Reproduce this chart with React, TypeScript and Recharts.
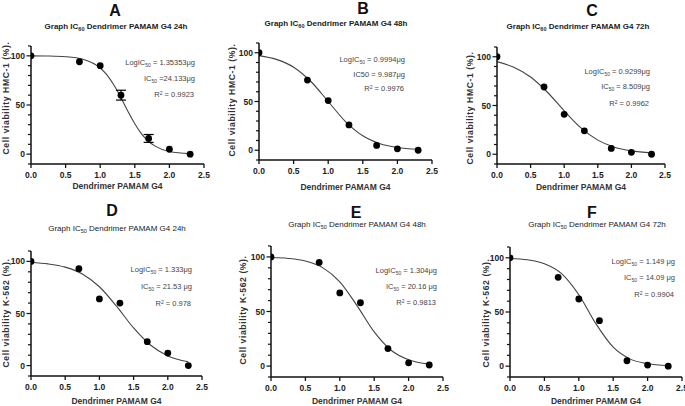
import React from 'react';
import { ComposedChart, Line, Scatter, XAxis, YAxis, ErrorBar } from 'recharts';

const W = 685;
const H = 406;
const FONT = '"Liberation Sans", Arial, Helvetica, sans-serif';

// measured doses (log10 µg)
const doseLog = [0, 0.7, 1.0, 1.3, 1.7, 2.0, 2.3];
const viabilityA = [100, 94, 90, 60, 16, 5, 0];
const errorA = [0, 0, 0, 5, 4, 0, 0];
const viabilityB = [100, 72, 51, 26, 5, 1.5, 0];
const viabilityC = [100, 69, 41, 24, 6, 2, 0];
const viabilityD = [100, 93, 64, 60, 23, 12, 0];
const viabilityE = [100, 95, 67, 58, 16, 3, 1];
const viabilityF = [100, 82, 62, 42, 5, 1, 0];

// fitted curves
const curveXA = [0, 0.25, 0.5, 0.75, 1.0, 1.1, 1.2, 1.3, 1.4, 1.5, 1.6, 1.7, 1.8, 2.0, 2.3];
const curveYA = [100, 99.8, 99.1, 96.6, 87.6, 80.3, 70, 57.4, 43.7, 30.9, 20.4, 12.9, 7.9, 2.7, 0.5];
const curveX = [0, 0.25, 0.5, 0.75, 1.0, 1.25, 1.5, 1.75, 2.0, 2.3];
const curveYB = [97.1, 93.2, 85.2, 70.5, 50, 29.4, 14.8, 6.7, 2.9, 1.0];
const curveYC = [95, 89.2, 79.2, 63.6, 44.6, 27, 14.5, 7.2, 3.5, 1.4];
const curveYD = [99, 97.6, 94.5, 87.9, 75.7, 57, 36.1, 19.5, 9.3, 3.6];
const curveYE = [99.4, 98.6, 96.2, 90.2, 77.2, 55.4, 31.3, 14.3, 5.8, 1.8];
const curveYF = [99.4, 98.2, 94.6, 85.4, 65.9, 39, 17.5, 6.5, 2.3, 0.6];

const xTicks = [0, 0.5, 1.0, 1.5, 2.0, 2.5];
const yTicks = [-10, 0, 10, 20, 30, 40, 50, 60, 70, 80, 90, 100, 110];
const yMajor = [0, 50, 100];

const letters = ['A', 'B', 'C', 'D', 'E', 'F'];
const hours = ['24h', '48h', '72h', '24h', '48h', '72h'];
const yLabels = ['Cell viability HMC-1 (%).', 'Cell  viability K-562 (%).'];
const xLabel = 'Dendrimer PAMAM G4';
const logTexts = ['1.35353\u03bcg', '0.9994\u03bcg', '0.9299\u03bcg', '1.333\u03bcg', '1.304\u03bcg', '1.149 \u03bcg'];
const icTexts = ['=24.133\u03bcg', '= 9.987\u03bcg', '= 8.509\u03bcg', '= 21.53 \u03bcg', '= 20.16 \u03bcg', '= 14.09 \u03bcg'];
const r2Texts = ['= 0.9923', '= 0.9976', '= 0.9962', '= 0.978', '= 0.9813', '= 0.9904'];

const zip = (xs: number[], ys: number[], es?: number[]) =>
  xs.map((x, i) => ({ x, y: ys[i], err: es ? es[i] : 0 }));

const layouts = [
  { left: 31, right: 204, top: 46, bottom: 164, title: [115, 16], sub: [116, 29], yl: [6, 98], xl: 189, ann: [195, 65, 81, 97], subSc: '60' },
  { left: 259, right: 432, top: 43, bottom: 160, title: [363, 14], sub: [336, 26], yl: [232, 100], xl: 190, ann: [405, 62, 77, 91], subSc: '60' },
  { left: 497, right: 665, top: 47, bottom: 164, title: [592, 16], sub: [578, 29], yl: [470, 108], xl: 190, ann: [650, 74, 89, 106], subSc: '60' },
  { left: 31, right: 202, top: 251, bottom: 376, title: [112, 216], sub: [117, 231], yl: [6, 313], xl: 404, ann: [192, 272, 289, 306], subSc: '50' },
  { left: 271, right: 443, top: 246, bottom: 377, title: [356, 218], sub: [357, 227], yl: [243, 310], xl: 404, ann: [437, 273, 289, 305], subSc: '50' },
  { left: 510, right: 682, top: 247, bottom: 377, title: [592, 218], sub: [597, 227], yl: [486, 313], xl: 404, ann: [675, 264, 280, 297], subSc: '50' },
];

const viab = [viabilityA, viabilityB, viabilityC, viabilityD, viabilityE, viabilityF];
const curves = [
  zip(curveXA, curveYA),
  zip(curveX, curveYB),
  zip(curveX, curveYC),
  zip(curveX, curveYD),
  zip(curveX, curveYE),
  zip(curveX, curveYF),
];

const panels = layouts.map((l, i) => ({
  ...l,
  letter: letters[i],
  hour: hours[i],
  yLabel: yLabels[i < 3 ? 0 : 1],
  points: zip(doseLog, viab[i], i === 0 ? errorA : undefined),
  curve: curves[i],
  hasErr: i === 0,
  logText: logTexts[i],
  icText: icTexts[i],
  r2Text: r2Texts[i],
  icPlain: i === 1,
}));

const XTick = (props: any) => {
  const { x, y, payload } = props;
  return (
    <g>
      <line x1={x} x2={x} y1={y} y2={y + 4} stroke="#111" strokeWidth={1.3} />
      <text x={x} y={y + 14} textAnchor="middle" fontSize={8.5} fontWeight="bold" fill="#222" fontFamily={FONT}>
        {Number(payload.value).toFixed(1)}
      </text>
    </g>
  );
};

const YTick = (props: any) => {
  const { x, y, payload } = props;
  const major = yMajor.includes(payload.value);
  return (
    <g>
      <line x1={x - (major ? 4.5 : 3)} x2={x} y1={y} y2={y} stroke="#111" strokeWidth={1.2} />
      {major && (
        <text x={x - 6} y={y + 3} textAnchor="end" fontSize={8.5} fontWeight="bold" fill="#222" fontFamily={FONT}>
          {payload.value}
        </text>
      )}
    </g>
  );
};

const Dot = (props: any) => <circle cx={props.cx} cy={props.cy} r={3.4} fill="#000" />;

function PanelChart({ p }: { p: any }) {
  const margin = { top: p.top, left: p.left - 1, right: W - p.right, bottom: H - p.bottom - 1 };
  return (
    <div style={{ position: 'absolute', left: 0, top: 0, width: W, height: H }}>
      <ComposedChart width={W} height={H} margin={margin}>
        <XAxis
          type="number"
          dataKey="x"
          domain={[0, 2.5]}
          ticks={xTicks}
          interval={0}
          height={1}
          tickSize={0}
          tickMargin={0}
          tickLine={false}
          axisLine={{ stroke: '#111', strokeWidth: 1.5 }}
          tick={XTick}
          allowDataOverflow
        />
        <YAxis
          type="number"
          domain={[-10, 110]}
          ticks={yTicks}
          interval={0}
          width={1}
          tickSize={0}
          tickMargin={0}
          tickLine={false}
          axisLine={{ stroke: '#111', strokeWidth: 1.5 }}
          tick={YTick}
          allowDataOverflow
        />
        <Line
          data={p.curve}
          dataKey="y"
          type="monotone"
          stroke="#444"
          strokeWidth={1.1}
          dot={false}
          activeDot={false}
          isAnimationActive={false}
        />
        <Scatter data={p.points} dataKey="y" fill="#000" shape={Dot} isAnimationActive={false}>
          {p.hasErr && <ErrorBar dataKey="err" direction="y" width={5} stroke="#000" strokeWidth={1.2} />}
        </Scatter>
      </ComposedChart>
    </div>
  );
}

function PanelText({ p }: { p: any }) {
  const [ax, a1, a2, a3] = p.ann;
  const annStyle = { fontSize: 7.5, fill: '#444', fontFamily: FONT } as any;
  return (
    <g>
      <text x={p.title[0]} y={p.title[1]} textAnchor="middle" fontSize={16} fontWeight="bold" fill="#111" fontFamily={FONT}>
        {p.letter}
      </text>
      <text
        x={p.sub[0]}
        y={p.sub[1]}
        textAnchor="middle"
        fontSize={8}
        fontWeight={p.subSc === '60' ? 'bold' : 'normal'}
        fill="#222"
        fontFamily={FONT}
      >
        <tspan>Graph IC</tspan>
        <tspan fontSize={5.5} dy={2}>{p.subSc}</tspan>
        <tspan dy={-2}>{` Dendrimer PAMAM G4 ${p.hour}`}</tspan>
      </text>
      <text
        transform={`translate(${p.yl[0]},${p.yl[1]}) rotate(-90)`}
        textAnchor="middle"
        fontSize={8.6}
        fontWeight="bold"
        letterSpacing={0.6}
        fill="#333"
        fontFamily={FONT}
        dy={3}
      >
        {p.yLabel}
      </text>
      <text x={(p.left + p.right) / 2} y={p.xl} textAnchor="middle" fontSize={8.5} fontWeight="bold" fill="#333" fontFamily={FONT}>
        {xLabel}
      </text>
      <text x={ax} y={a1} textAnchor="end" {...annStyle}>
        <tspan>LogIC</tspan>
        <tspan fontSize={5} dy={1.5}>50</tspan>
        <tspan dy={-1.5}>{` = ${p.logText}`}</tspan>
      </text>
      {p.icPlain ? (
        <text x={ax} y={a2} textAnchor="end" {...annStyle}>
          {`IC50 ${p.icText}`}
        </text>
      ) : (
        <text x={ax} y={a2} textAnchor="end" {...annStyle}>
          <tspan>IC</tspan>
          <tspan fontSize={5} dy={1.5}>50</tspan>
          <tspan dy={-1.5}>{` ${p.icText}`}</tspan>
        </text>
      )}
      <text x={ax - 1} y={a3} textAnchor="end" {...annStyle}>
        <tspan>R</tspan>
        <tspan fontSize={5} dy={-2.5}>2</tspan>
        <tspan dy={2.5}>{` ${p.r2Text}`}</tspan>
      </text>
    </g>
  );
}

export default function App() {
  return (
    <div style={{ position: 'absolute', left: 0, top: 0, width: W, height: H, background: '#fff', overflow: 'hidden' }}>
      {panels.map((p, i) => (
        <PanelChart key={i} p={p} />
      ))}
      <svg width={W} height={H} style={{ position: 'absolute', left: 0, top: 0 }}>
        {panels.map((p, i) => (
          <PanelText key={i} p={p} />
        ))}
      </svg>
    </div>
  );
}
